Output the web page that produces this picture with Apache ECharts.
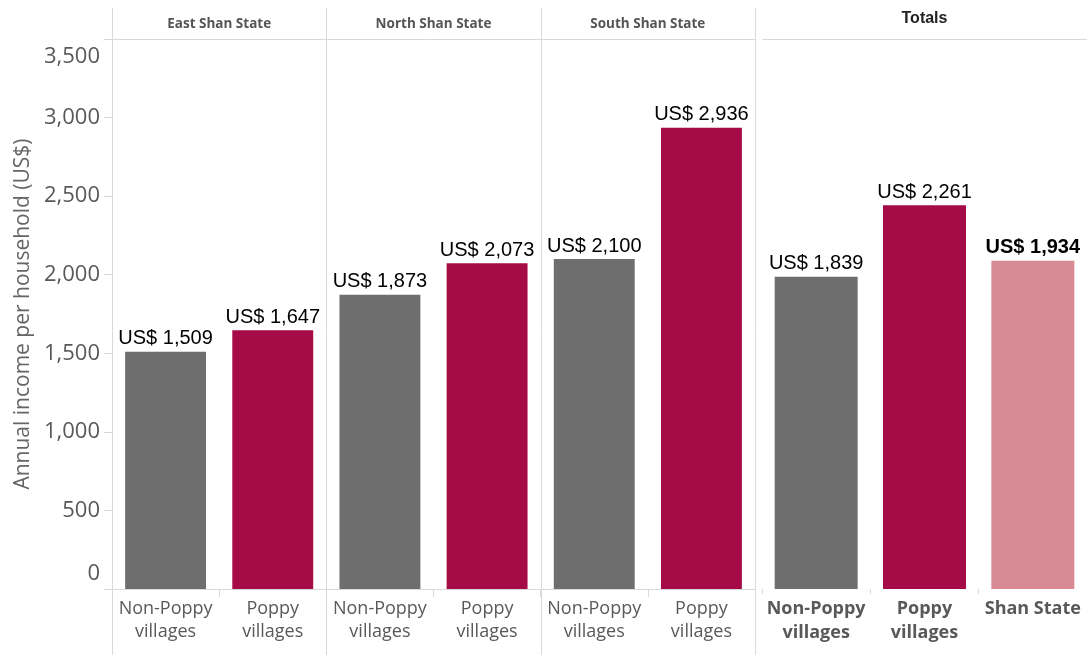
<!DOCTYPE html>
<html>
<head>
<meta charset="utf-8">
<script src="https://cdn.jsdelivr.net/npm/echarts@6/dist/echarts.min.js"></script>
<style>
html,body{margin:0;padding:0;background:#fff;}
#chart{width:1087px;height:655px;}
</style>
</head>
<body>
<div id="chart"></div>
<script>
// ---- data ----
const facets = ['East Shan State', 'North Shan State', 'South Shan State'];
const villageTypes = ['Non-Poppy\nvillages', 'Poppy\nvillages'];
const nonPoppyIncome = [1509, 1873, 2100];
const poppyIncome = [1647, 2073, 2936];
const totalsTitle = 'Totals';
const totalCategories = ['Non-Poppy\nvillages', 'Poppy\nvillages', 'Shan State'];
const totalIncome = [1839, 2261, 1934];
const yAxisTitle = 'Annual income per household (US$)';
const yMin = 0, yMax = 3500, yStep = 500;

// ---- styles / layout ----
const GREY = '#6e6e6e', CRIMSON = '#a50b46', PINK = '#d88a94';
const LINE = '#d9d9d9';
const L = { left: 112, right: 755, top: 39, bottom: 589, totLeft: 762, totRight: 1087, W: 1087, H: 655 };
const fmt = v => 'US$ ' + v.toLocaleString('en-US');

const leftCats = [], leftData = [];
facets.forEach((f, i) => {
  leftCats.push(villageTypes[0]); leftData.push({ value: nonPoppyIncome[i], itemStyle: { color: GREY } });
  leftCats.push(villageTypes[1]); leftData.push({ value: poppyIncome[i], itemStyle: { color: CRIMSON } });
});
const totalColors = [GREY, CRIMSON, PINK];
const totData = totalIncome.map((v, i) => ({
  value: v,
  itemStyle: { color: totalColors[i] },
  label: i === 2 ? { fontWeight: 'bold' } : {}
}));

const graphics = [];
const fw = (L.right - L.left) / facets.length;
for (let i = 0; i <= facets.length; i++) {
  const x = Math.round(L.left + i * fw) + 0.5;
  graphics.push({ type: 'line', shape: { x1: x, y1: 8, x2: x, y2: L.H }, style: { stroke: LINE, lineWidth: 1 }, z: 1 });
}
graphics.push({ type: 'line', shape: { x1: L.left - 8, y1: L.top + 0.5, x2: L.right, y2: L.top + 0.5 }, style: { stroke: LINE, lineWidth: 1 } });
graphics.push({ type: 'line', shape: { x1: L.totLeft, y1: L.top + 0.5, x2: L.totRight, y2: L.top + 0.5 }, style: { stroke: LINE, lineWidth: 1 } });
facets.forEach((f, i) => {
  graphics.push({
    type: 'text', x: L.left + (i + 0.5) * fw, y: 24.5,
    style: { text: f, font: 'bold 13.5px "Open Sans"', fill: '#555', textAlign: 'center', textVerticalAlign: 'middle' }
  });
});
graphics.push({
  type: 'text', x: (L.totLeft + L.totRight) / 2, y: 18.5,
  style: { text: totalsTitle, font: 'bold 16px "Liberation Sans", Arial', fill: '#222', textAlign: 'center', textVerticalAlign: 'middle' }
});

const valueLabel = {
  show: true, position: 'top', distance: 3,
  formatter: p => fmt(p.value),
  fontFamily: '"Liberation Sans", Arial, sans-serif', fontSize: 20, color: '#000'
};

const option = {
  animation: false,
  grid: [
    { left: L.left, top: L.top, width: L.right - L.left, height: L.bottom - L.top },
    { left: L.totLeft, top: L.top, width: L.totRight - L.totLeft, height: L.bottom - L.top }
  ],
  xAxis: [
    {
      type: 'category', gridIndex: 0, data: leftCats,
      axisLine: { show: true, lineStyle: { color: LINE } },
      axisTick: { show: true, length: 8, lineStyle: { color: LINE } },
      axisLabel: { interval: 0, margin: 8, fontFamily: '"Open Sans"', fontSize: 18, lineHeight: 23, color: '#595959' }
    },
    {
      type: 'category', gridIndex: 1, data: totalCategories,
      axisLine: { show: false },
      axisTick: { show: true, length: 5, lineStyle: { color: LINE } },
      axisLabel: { interval: 0, margin: 8, fontFamily: '"Open Sans"', fontWeight: 'bold', fontSize: 18, lineHeight: 24, color: '#595959' }
    }
  ],
  yAxis: [
    {
      type: 'value', gridIndex: 0, min: yMin, max: yMax, interval: yStep,
      splitLine: { show: false },
      axisLine: { show: false },
      axisTick: { show: true, length: 8, lineStyle: { color: LINE } },
      axisLabel: {
        margin: 12, fontFamily: '"Open Sans"', fontSize: 22, color: '#595959',
        formatter: v => {
          const s = v.toLocaleString('en-US');
          if (v === yMin) return '{lo|' + s + '}';
          if (v === yMax) return '{hi|' + s + '}';
          return s;
        },
        rich: {
          lo: { fontFamily: '"Open Sans"', fontSize: 22, color: '#595959', padding: [0, 0, 30, 0] },
          hi: { fontFamily: '"Open Sans"', fontSize: 22, color: '#595959', padding: [36, 0, 0, 0] }
        }
      },
      name: yAxisTitle, nameLocation: 'middle', nameGap: 76,
      nameTextStyle: { fontFamily: '"Open Sans"', fontSize: 21, color: '#666' }
    },
    {
      type: 'value', gridIndex: 1, min: 0, max: 3240,
      show: false, splitLine: { show: false }
    }
  ],
  series: [
    { type: 'bar', xAxisIndex: 0, yAxisIndex: 0, data: leftData, barWidth: '75.5%', label: valueLabel, z: 3 },
    { type: 'bar', xAxisIndex: 1, yAxisIndex: 1, data: totData, barWidth: '76.6%', label: valueLabel, z: 3 }
  ],
  graphic: graphics
};

const chart = echarts.init(document.getElementById('chart'), null, { renderer: 'canvas' });
chart.setOption(option);
</script>
</body>
</html>
